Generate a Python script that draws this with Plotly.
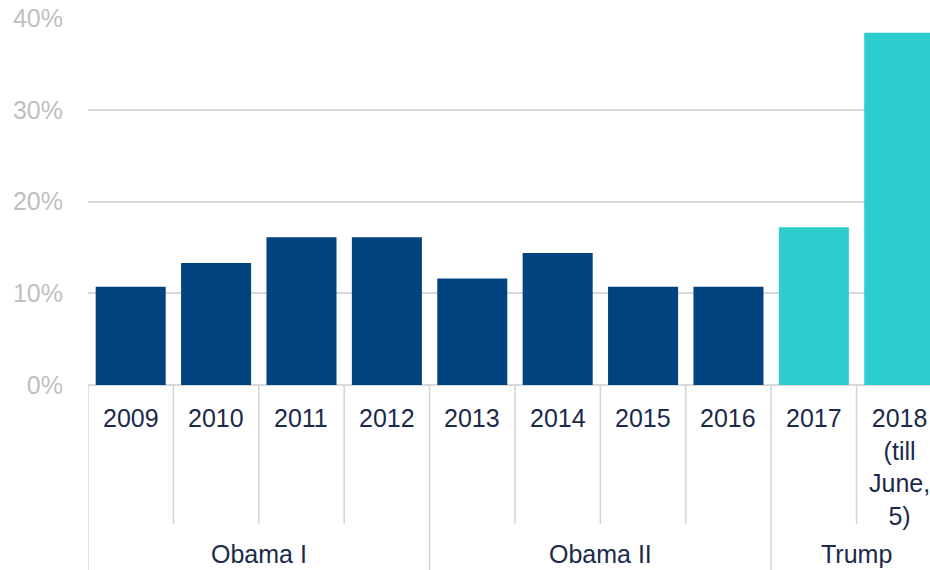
import plotly.graph_objects as go

years = ["2009", "2010", "2011", "2012", "2013", "2014", "2015", "2016", "2017", "2018"]
year_labels = ["2009", "2010", "2011", "2012", "2013", "2014", "2015", "2016", "2017",
               "2018<br>(till<br>June,<br>5)"]
values = [10.7, 13.3, 16.1, 16.1, 11.6, 14.4, 10.7, 10.7, 17.2, 38.4]
groups = ["Obama I", "Obama II", "Trump"]
group_sizes = [4, 4, 2]
group_colors = ["#00437F", "#00437F", "#2ECDCD"]
y_tick_vals = [0, 10, 20, 30, 40]
y_tick_text = ["0%", "10%", "20%", "30%", "40%"]

bar_colors = []
for g, n in enumerate(group_sizes):
    bar_colors += [group_colors[g]] * n

fig = go.Figure(go.Bar(x=years, y=values, marker=dict(color=bar_colors, line=dict(width=0)),
                       hoverinfo="x+y"))

PLOT_TOP, PLOT_BOT = 18, 385
H = PLOT_BOT - PLOT_TOP

def py(pix):
    return (PLOT_BOT - pix) / H

FONT = "Liberation Sans, Arial"
FS = 25
text_color = "#1B2A4A"
line_color = "#D4D4D4"
annotations = []
shapes = []
for i, lab in enumerate(year_labels):
    annotations.append(dict(x=i, y=py(402), xref="x", yref="paper", text=lab, showarrow=False,
                            yanchor="top", xanchor="center",
                            font=dict(family=FONT, size=FS, color=text_color)))

start = 0
for g, n in enumerate(group_sizes):
    center = start + (n - 1) / 2
    annotations.append(dict(x=center, y=py(570), xref="x", yref="paper", text=groups[g],
                            showarrow=False, yanchor="bottom", xanchor="center",
                            font=dict(family=FONT, size=FS, color=text_color)))
    shapes.append(dict(type="line", xref="x", yref="paper", x0=start - 0.5, x1=start - 0.5,
                       y0=py(385), y1=py(600), line=dict(color=line_color, width=1.5)))
    for k in range(1, n):
        xb = start + k - 0.5
        shapes.append(dict(type="line", xref="x", yref="paper", x0=xb, x1=xb,
                           y0=py(385), y1=py(524), line=dict(color=line_color, width=1.5)))
    start += n

fig.update_layout(
    width=930, height=570,
    margin=dict(l=88, r=0, t=PLOT_TOP, b=570 - PLOT_BOT, pad=0),
    plot_bgcolor="white", paper_bgcolor="white",
    bargap=0.18,
    showlegend=False,
    annotations=annotations,
    shapes=shapes,
    xaxis=dict(type="category", range=[-0.5, 9.36], showticklabels=False, showgrid=False,
               zeroline=False, showline=False, ticks=""),
    yaxis=dict(range=[0, 40], tickmode="array", tickvals=y_tick_vals, ticktext=y_tick_text,
               showgrid=True, gridcolor="#D9D9D9", gridwidth=1.5,
               zeroline=True, zerolinecolor="#D9D9D9", zerolinewidth=1.5,
               ticklabelstandoff=24,
               tickfont=dict(family=FONT, size=FS, color="#BFBFBF")),
    font=dict(family=FONT),
)

fig.write_html("out.html")
